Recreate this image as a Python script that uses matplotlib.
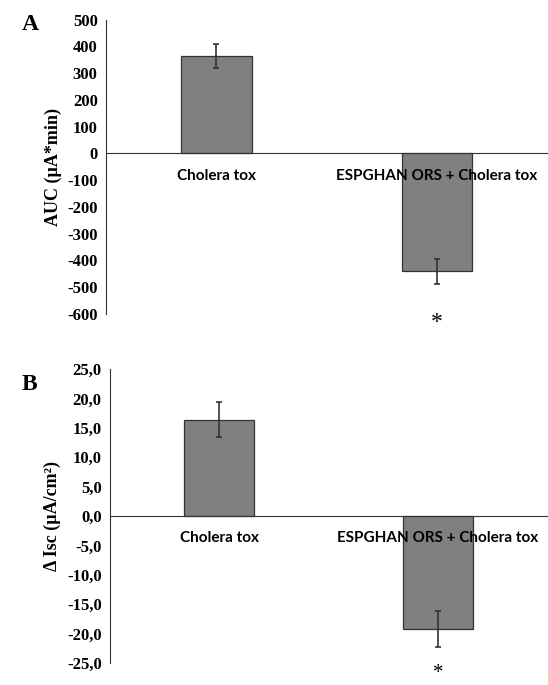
import matplotlib
matplotlib.use('Agg')
import matplotlib.pyplot as plt

plt.rcParams['axes.unicode_minus'] = False

categories = ['Cholera tox', 'ESPGHAN ORS + Cholera tox']
auc_mean = [364, -441]
auc_err = [46, 46]
isc_mean = [16.4, -19.2]
isc_err = [3.0, 3.0]
auc_ticks = [500, 400, 300, 200, 100, 0, -100, -200, -300, -400, -500, -600]
isc_ticks = [25, 20, 15, 10, 5, 0, -5, -10, -15, -20, -25]

serif = 'Liberation Serif'
sans = 'Lato'

fig = plt.figure(figsize=(5.48, 6.85), dpi=100)
axA = fig.add_axes([0.1934, 0.5416, 0.805, 0.4299])
axB = fig.add_axes([0.2007, 0.0321, 0.798, 0.4292])


def draw(ax, means, errs, ticks, fmt, ylabel, star_y, star_size):
    x = list(range(len(categories)))
    ax.bar(x, means, width=0.32, color='#808080', edgecolor='#333333', linewidth=0.9, zorder=2)
    ax.errorbar(x, means, yerr=errs, fmt='none', ecolor='#333333', elinewidth=1.2,
                capsize=2.5, capthick=1.2, zorder=3)
    ax.set_xlim(-0.5, 1.5)
    ax.set_ylim(ticks[-1], ticks[0])
    ax.set_yticks(ticks)
    ax.set_yticklabels([fmt(t) for t in ticks], fontfamily=serif, fontweight='bold', fontsize=12)
    ax.tick_params(axis='y', length=0, pad=6)
    ax.spines['top'].set_visible(False)
    ax.spines['right'].set_visible(False)
    ax.spines['bottom'].set_position(('data', 0))
    ax.spines['bottom'].set_color('#333333')
    ax.spines['left'].set_color('#333333')
    ax.spines['bottom'].set_zorder(4)
    ax.set_xticks(x)
    ax.set_xticklabels(categories, fontfamily=sans, fontweight='bold', fontsize=11)
    ax.tick_params(axis='x', length=0, pad=11)
    ax.xaxis.set_zorder(5)
    ax.set_ylabel(ylabel, fontfamily=serif, fontweight='bold', fontsize=13, labelpad=4)
    ax.text(1, star_y, '*', ha='center', va='center', fontfamily=serif,
            fontsize=star_size, clip_on=False)


draw(axA, auc_mean, auc_err, auc_ticks, lambda t: str(t), 'AUC (\u00b5A*min)', -630, 17)
draw(axB, isc_mean, isc_err, isc_ticks, lambda t: f'{t:.1f}'.replace('.', ','),
     '\u0394 Isc (\u00b5A/cm\u00b2)', -26.8, 15)

fig.text(22 / 548, 1 - 25 / 685, 'A', fontfamily=serif, fontweight='bold', fontsize=17,
         ha='left', va='center')
fig.text(22 / 548, 1 - 385 / 685, 'B', fontfamily=serif, fontweight='bold', fontsize=17,
         ha='left', va='center')

fig.savefig('out.png', dpi=100)
